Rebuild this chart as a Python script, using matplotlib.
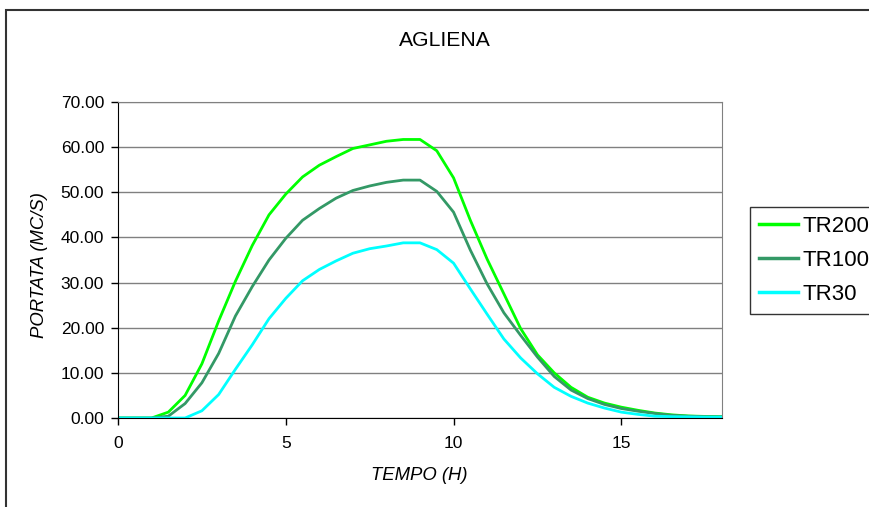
import matplotlib
matplotlib.use("Agg")
import matplotlib.pyplot as plt
from matplotlib.patches import Rectangle
from matplotlib.ticker import FormatStrFormatter

plt.rcParams['font.family'] = ['Liberation Sans', 'DejaVu Sans']

time_h = [0.0, 0.5, 1.0, 1.5, 2.0, 2.5, 3.0, 3.5, 4.0, 4.5, 5.0, 5.5, 6.0, 6.5,
          7.0, 7.5, 8.0, 8.5, 9.0, 9.5, 10.0, 10.5, 11.0, 11.5, 12.0, 12.5,
          13.0, 13.5, 14.0, 14.5, 15.0, 15.5, 16.0, 16.5, 17.0, 17.5, 18.0]

tr200 = [0, 0, 0, 1.3, 5.0, 12.0, 21.5, 30.3, 38.2, 45.0, 49.6, 53.4, 56.0, 57.9,
         59.7, 60.5, 61.3, 61.7, 61.7, 59.2, 53.2, 43.8, 35.2, 27.5, 19.8, 14.0,
         10.0, 6.8, 4.6, 3.3, 2.4, 1.7, 1.1, 0.7, 0.45, 0.35, 0.3]

tr100 = [0, 0, 0, 0.4, 3.2, 7.8, 14.3, 22.6, 29.1, 35.0, 39.8, 43.8, 46.4, 48.7,
         50.4, 51.4, 52.2, 52.7, 52.7, 50.2, 45.6, 37.2, 29.7, 23.3, 18.3, 13.5,
         9.2, 6.2, 4.3, 3.0, 2.1, 1.5, 1.0, 0.6, 0.4, 0.3, 0.25]

tr30 = [0, 0, 0, 0, 0, 1.6, 5.2, 10.8, 16.2, 22.0, 26.5, 30.4, 32.9, 34.8,
        36.5, 37.5, 38.1, 38.8, 38.8, 37.3, 34.3, 28.6, 23.0, 17.5, 13.3, 9.8,
        6.8, 4.8, 3.3, 2.2, 1.3, 0.8, 0.4, 0.3, 0.25, 0.2, 0.2]

series_names = ["TR200", "TR100", "TR30"]
series_colors = ["#00FF00", "#339966", "#00FFFF"]
y_ticks = [0, 10, 20, 30, 40, 50, 60, 70]
x_ticks = [0, 5, 10, 15]

W, H = 869, 507
fig = plt.figure(figsize=(W / 100, H / 100), dpi=100)
ax = fig.add_axes([118 / W, 1 - 418 / H, (722 - 118) / W, (418 - 102) / H])

for vals, name, col in zip([tr200, tr100, tr30], series_names, series_colors):
    ax.plot(time_h, vals, color=col, lw=2.0, label=name, solid_joinstyle='round')

ax.set_xlim(0, 18)
ax.set_ylim(0, 70)
ax.set_yticks(y_ticks)
ax.set_xticks(x_ticks)
ax.yaxis.set_major_formatter(FormatStrFormatter('%.2f'))
ax.grid(axis='y', color='#808080', lw=1.0)
ax.set_axisbelow(True)
for s in ['top', 'right']:
    ax.spines[s].set_color('#808080')
for s in ['left', 'bottom']:
    ax.spines[s].set_color('black')
ax.tick_params(direction='out', length=5, width=1, labelsize=12.5, colors='black')
ax.tick_params(axis='y', pad=5)
ax.tick_params(axis='x', pad=8)

fig.text(419 / W, 1 - 476 / H, 'TEMPO (H)', fontsize=13.3, style='italic',
         ha='center', va='center')
fig.text(40 / W, 1 - 265 / H, 'PORTATA (MC/S)', fontsize=13.3, style='italic',
         ha='center', va='center', rotation=90)
fig.text(445 / W, 1 - 40 / H, 'AGLIENA', fontsize=15.2, ha='center', va='center')

leg = fig.legend(loc='upper left', bbox_to_anchor=(750 / W, 1 - 207 / H),
                 fontsize=16, frameon=True, fancybox=False, handlelength=1.75,
                 handletextpad=0.2, borderpad=0.4, labelspacing=0.58,
                 borderaxespad=0)
leg.get_frame().set_edgecolor('black')
leg.get_frame().set_linewidth(1.0)
for line in leg.get_lines():
    line.set_linewidth(2.5)

fig.patches.append(Rectangle((6 / W, -0.1), 1.2, (1 - 10 / H) + 0.1,
                             transform=fig.transFigure, fill=False,
                             edgecolor='#333333', lw=1.5))

fig.savefig('out.png', dpi=100)
